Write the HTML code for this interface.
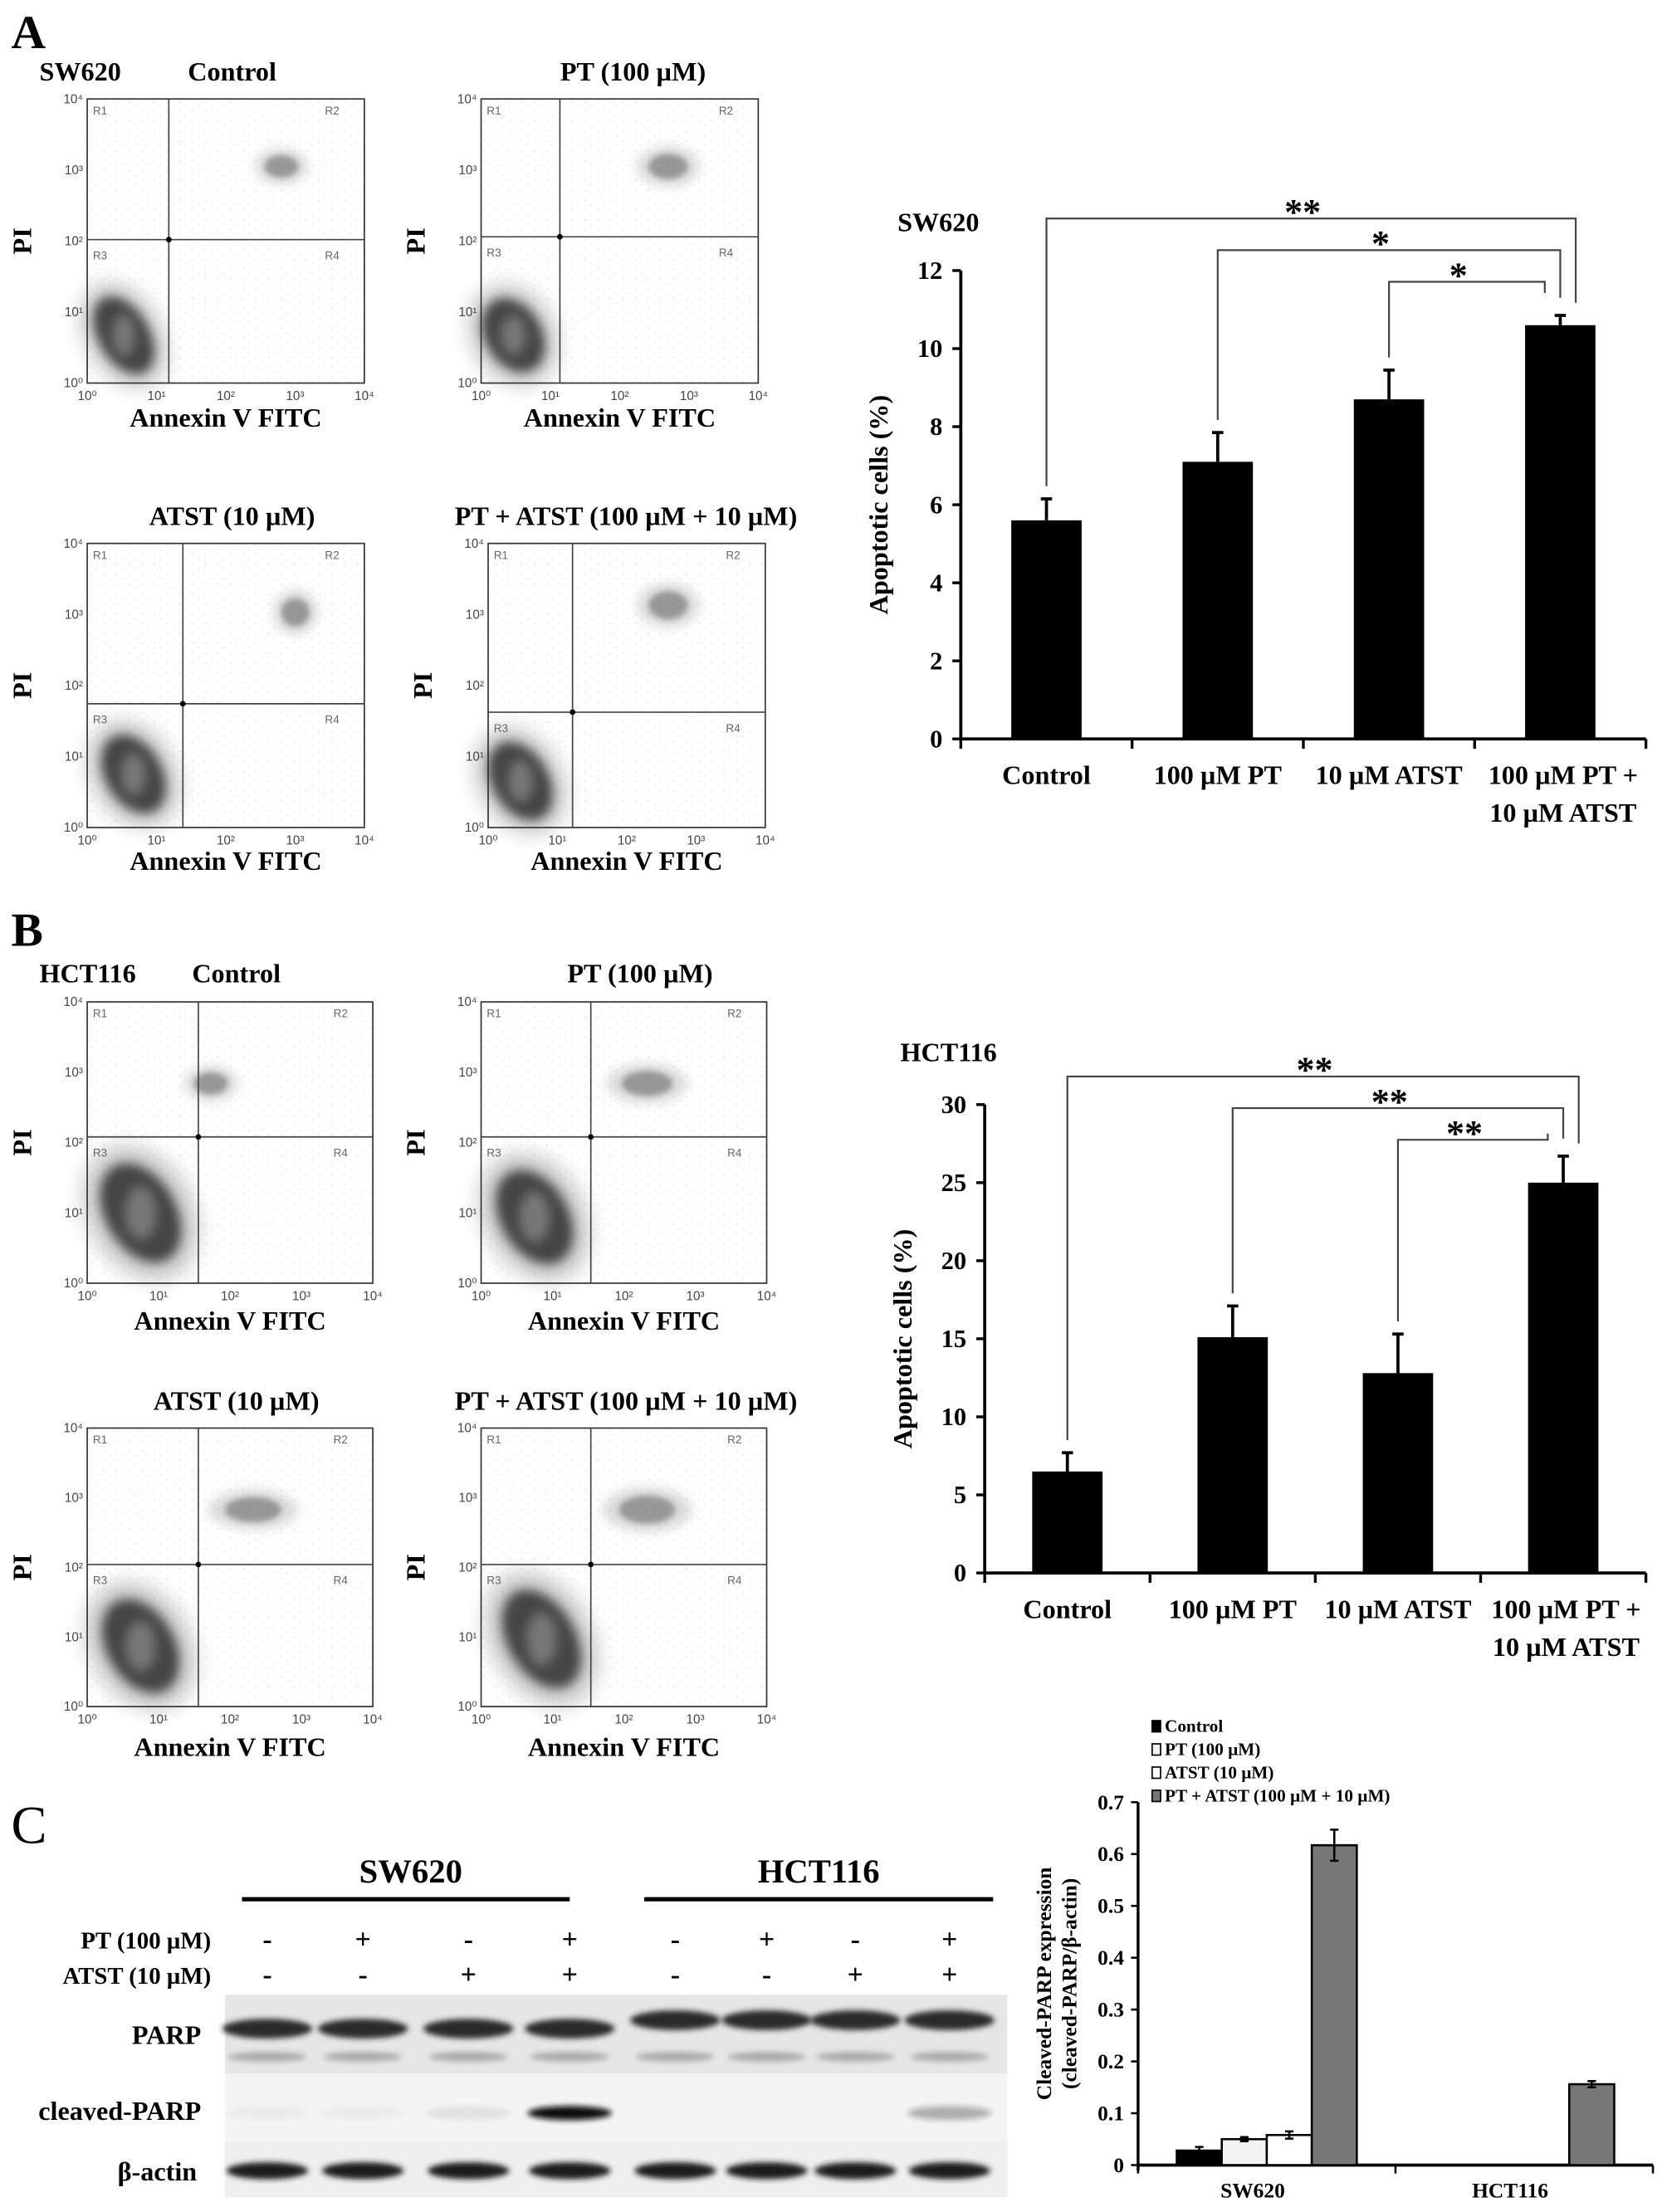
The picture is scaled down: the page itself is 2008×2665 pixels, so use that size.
<!DOCTYPE html>
<html><head><meta charset="utf-8"><style>
html,body{margin:0;padding:0;background:#fff}
svg{display:block}
text{font-family:"Liberation Serif",serif;font-weight:bold;fill:#000}
.tk{font-family:"Liberation Sans",sans-serif;font-weight:normal;fill:#444;font-size:9px}
.ql{font-family:"Liberation Sans",sans-serif;font-weight:normal;fill:#666;font-size:8px}
</style></head><body>
<svg id="fig" width="2008" height="2665" viewBox="0 0 1185 1572" xmlns="http://www.w3.org/2000/svg">
<defs>
<filter id="blur3" x="-50%" y="-50%" width="200%" height="200%"><feGaussianBlur stdDeviation="4"/></filter>
<filter id="blur6" x="-50%" y="-50%" width="200%" height="200%"><feGaussianBlur stdDeviation="7"/></filter>
<filter id="blur2" x="-50%" y="-50%" width="200%" height="200%"><feGaussianBlur stdDeviation="2"/></filter>
<pattern id="dots" width="9" height="7" patternUnits="userSpaceOnUse"><circle cx="2" cy="2" r="0.7" fill="#777"/><circle cx="6" cy="5" r="0.6" fill="#999"/></pattern>
</defs>
<text x="8" y="34" font-size="34">A</text>
<text x="8" y="672" font-size="34">B</text>
<text x="8" y="1310" font-size="38" style="font-weight:normal">C</text>
<g id="flow"></g>
<g id="chartA"></g>
<g id="chartB"></g>
<g id="blot"></g>
<g id="chartC"></g>
</svg>
<script>
// ---- Chart A data (SW620) ----
const catsA = ["Control","100 µM PT","10 µM ATST","100 µM PT +|10 µM ATST"];
const valsA = [5.6, 7.1, 8.7, 10.6];
const errsA = [0.55, 0.75, 0.75, 0.25];
const ticksA = [0,2,4,6,8,10,12];
const brFromA = [0,1,2];
const brLabelA = ["**","*","*"];
// ---- Chart B data (HCT116) ----
const catsB = ["Control","100 µM PT","10 µM ATST","100 µM PT +|10 µM ATST"];
const valsB = [6.5, 15.1, 12.8, 25.0];
const errsB = [1.2, 2.0, 2.5, 1.7];
const ticksB = [0,5,10,15,20,25,30];
const brFromB = [0,1,2];
const brLabelB = ["**","**","**"];
// ---- Chart C data ----
const groupsC = ["SW620","HCT116"];
const seriesC = ["Control","PT (100 µM)","ATST (10 µM)","PT + ATST (100 µM + 10 µM)"];
const valsControl = [0.028, 0];
const valsPT = [0.050, 0];
const valsATST = [0.058, 0];
const valsCombo = [0.617, 0.156];
const errsControl = [0.007, 0];
const errsPT = [0.004, 0];
const errsATST = [0.007, 0];
const errsCombo = [0.03, 0.006];
const ticksC = [0,0.1,0.2,0.3,0.4,0.5,0.6,0.7];

const NS="http://www.w3.org/2000/svg";
function mk(tag, attrs, parent, txt){const e=document.createElementNS(NS,tag);for(const k in attrs)e.setAttribute(k,attrs[k]);if(txt!==undefined)e.textContent=txt;parent.appendChild(e);return e;}

function barChart(g, o, cats, vals, errs, ticks, brFrom, brLabel){
  const ymax=ticks[ticks.length-1];
  const y=v=>o.y0-(v/ymax)*(o.y0-o.yTop);
  const band=(o.x1-o.x0)/cats.length;
  const cx=i=>o.x0+band*(i+0.5);
  mk('line',{x1:o.x0,y1:o.yTop,x2:o.x0,y2:o.y0,stroke:'#000','stroke-width':2.2},g);
  mk('line',{x1:o.x0,y1:o.y0,x2:o.x1,y2:o.y0,stroke:'#000','stroke-width':2.2},g);
  ticks.forEach(t=>{
    const tl=mk('line',{x1:o.x0-6,y1:y(t),x2:o.x0,y2:y(t),stroke:'#000','stroke-width':2},g);
    
    
    const tt=mk('text',{x:o.x0-13,y:y(t)+6,'font-size':18,'text-anchor':'end'},g,String(t));
    
    
  });
  for(let i=0;i<=cats.length;i++){
    mk('line',{x1:o.x0+band*i,y1:o.y0,x2:o.x0+band*i,y2:o.y0+7,stroke:'#000','stroke-width':2},g);
  }
  cats.forEach((c,i)=>{
    const b=mk('rect',{x:cx(i)-25,y:y(vals[i]),width:50,height:o.y0-y(vals[i]),fill:'#000'},g);
    
    
    const et=y(vals[i]+errs[i]);
    const el=mk('path',{d:`M${cx(i)} ${y(vals[i])}V${et}M${cx(i)-4} ${et}H${cx(i)+4}`,stroke:'#000','stroke-width':2.2,fill:'none'},g);
    
    
    const parts=c.split('|');
    parts.forEach((p,k)=>{
      const t=mk('text',{x:cx(i)+(parts.length>1?2:0),y:o.y0+32+k*27,'font-size':19,'text-anchor':'middle'},g,p);
      
      
    });
  });
  const last=cats.length-1;
  const lastTop=y(vals[last]+errs[last]);
  brFrom.forEach((f,k)=>{
    const ly=o.brY+k*22.5;
    const fx=cx(f), tx=cx(last)+11-k*11;
    const fb=y(vals[f]+errs[f])-9;
    const tb=lastTop-9-k*3.5;
    const p=mk('path',{d:`M${fx} ${fb}V${ly}H${tx}V${tb}`,stroke:'#444','stroke-width':1.3,fill:'none'},g);
    
    
    const t=mk('text',{x:(fx+tx)/2-6,y:ly+4,'font-size':26,'text-anchor':'middle'},g,brLabel[k]);
    
    
  });
  const tt=mk('text',{x:o.titleX,y:o.titleY,'font-size':19},g,o.title);
  
  
  const yt=mk('text',{x:0,y:0,'font-size':19,'text-anchor':'middle',transform:`translate(${o.x0-52},${(o.y0+o.yTop)/2}) rotate(-90)`},g,'Apoptotic cells (%)');
  
  
}
barChart(document.getElementById('chartA'),{x0:683,x1:1170,y0:525,yTop:192,brY:155,title:'SW620',titleX:638,titleY:164},catsA,valsA,errsA,ticksA,brFromA,brLabelA);
barChart(document.getElementById('chartB'),{x0:700,x1:1170,y0:1118,yTop:785,brY:765,title:'HCT116',titleX:640,titleY:754},catsB,valsB,errsB,ticksB,brFromB,brLabelB);

// ---- Chart C ----
(function(){
  const g=document.getElementById('chartC');
  const x0=809,x1=1175,y0=1539,yTop=1281,ymax=0.7;
  const y=v=>y0-(v/ymax)*(y0-yTop);
  const band=(x1-x0)/groupsC.length;
  mk('line',{x1:x0,y1:yTop,x2:x0,y2:y0+4,stroke:'#000','stroke-width':2},g);
  mk('line',{x1:x0,y1:y0,x2:x1,y2:y0,stroke:'#000','stroke-width':2.2},g);
  ticksC.forEach(t=>{
    mk('line',{x1:x0-5,y1:y(t),x2:x0,y2:y(t),stroke:'#000','stroke-width':1.5},g);
    const tt=mk('text',{x:x0-10,y:y(t)+5,'font-size':15,'text-anchor':'end'},g,t===0?'0':String(t));
    
    
  });
  for(let i=0;i<=groupsC.length;i++) mk('line',{x1:x0+band*i,y1:y0,x2:x0+band*i,y2:y0+6,stroke:'#000','stroke-width':1.5},g);
  const vals=[valsControl,valsPT,valsATST,valsCombo];
  const errs=[errsControl,errsPT,errsATST,errsCombo];
  const fills=['#000','#f3f3f3','#fff','#777'];
  const bw=32;
  groupsC.forEach((gn,gi)=>{
    const gc=x0+band*(gi+0.5);
    vals.forEach((s,si)=>{
      const bx=gc-2*bw+si*bw;
      if(s[gi]>0){
        const r=mk('rect',{x:bx,y:y(s[gi]),width:bw,height:y0-y(s[gi]),fill:fills[si],stroke:'#000','stroke-width':1.5},g);
        
        
        const c=bx+bw/2,a=y(s[gi]+errs[si][gi]),b=y(s[gi]-errs[si][gi]);
        const e=mk('path',{d:`M${c} ${a}V${b}M${c-3} ${a}H${c+3}M${c-3} ${b}H${c+3}`,stroke:'#000','stroke-width':1.5,fill:'none'},g);
        
        
      }
    });
    const t=mk('text',{x:gc-10,y:1562,'font-size':15,'text-anchor':'middle'},g,gn);
    
    
  });
  seriesC.forEach((s,i)=>{
    const ly=1231+i*16.5;
    const sq=mk('rect',{x:819,y:ly-8,width:6,height:8,fill:fills[i],stroke:'#000','stroke-width':1},g);
    
    
    const t=mk('text',{x:828,y:ly,'font-size':12.5},g,s);
    
    
  });
  const t1=mk('text',{x:0,y:0,'font-size':15,'text-anchor':'middle',transform:`translate(747,${(y0+yTop)/2}) rotate(-90)`},g,'Cleaved-PARP expression');
  
  
  const t2=mk('text',{x:0,y:0,'font-size':15,'text-anchor':'middle',transform:`translate(765,${(y0+yTop)/2}) rotate(-90)`},g,'(cleaved-PARP/β-actin)');
  
  
})();

// ---- Flow cytometry panels ----
(function(){
  const g=document.getElementById('flow');
  const plots=[
    {x:62,y:70,w:197,h:202,vx:120,hy:170,title:'Control',tx:165,ty:57,sub:'SW620',main:[88,238,18,30],r2:[200,118,12,8],lab:303},
    {x:342,y:70,w:197,h:202,vx:398,hy:168,title:'PT (100 µM)',tx:450,ty:57,main:[365,238,20,28],r2:[475,118,14,9],lab:303},
    {x:62,y:386,w:197,h:202,vx:130,hy:500,title:'ATST (10 µM)',tx:165,ty:373,main:[95,550,20,30],r2:[210,435,10,10],lab:618},
    {x:347,y:386,w:197,h:202,vx:407,hy:506,title:'PT + ATST (100 µM + 10 µM)',tx:445,ty:373,main:[370,555,20,30],r2:[475,430,14,10],lab:618},
    {x:62,y:712,w:203,h:200,vx:141,hy:808,title:'Control',tx:168,ty:698,sub:'HCT116',main:[100,862,25,38],r2:[150,770,12,8],lab:945},
    {x:342,y:712,w:203,h:200,vx:420,hy:808,title:'PT (100 µM)',tx:455,ty:698,main:[380,865,24,36],r2:[460,770,18,9],lab:945},
    {x:62,y:1015,w:203,h:198,vx:141,hy:1112,title:'ATST (10 µM)',tx:168,ty:1002,main:[100,1170,24,36],r2:[180,1073,20,9],lab:1248},
    {x:342,y:1015,w:203,h:198,vx:420,hy:1112,title:'PT + ATST (100 µM + 10 µM)',tx:445,ty:1002,main:[385,1165,24,38],r2:[460,1073,20,10],lab:1248}
  ];
  plots.forEach((p,i)=>{
    const pg=mk('g',{},g);
    
    
    mk('rect',{x:p.x,y:p.y,width:p.w,height:p.h,fill:'url(#dots)',opacity:0.15},pg);
    const m=p.main;
    mk('ellipse',{cx:m[0],cy:m[1],rx:m[2]*1.5,ry:m[3]*1.35,fill:'#777',opacity:0.4,filter:'url(#blur6)',transform:`rotate(-30 ${m[0]} ${m[1]})`},pg);
    mk('ellipse',{cx:m[0],cy:m[1],rx:m[2],ry:m[3],fill:'#444',filter:'url(#blur3)',transform:`rotate(-30 ${m[0]} ${m[1]})`},pg);
    mk('ellipse',{cx:m[0],cy:m[1],rx:m[2]*0.45,ry:m[3]*0.5,fill:'#777',filter:'url(#blur3)'},pg);
    const r=p.r2;
    mk('ellipse',{cx:r[0],cy:r[1],rx:r[2]*1.6,ry:r[3]*1.6,fill:'#999',opacity:0.35,filter:'url(#blur3)'},pg);
    mk('ellipse',{cx:r[0],cy:r[1],rx:r[2],ry:r[3],fill:'#555',opacity:0.5,filter:'url(#blur2)'},pg);
    mk('rect',{x:p.x,y:p.y,width:p.w,height:p.h,fill:'none',stroke:'#333','stroke-width':1},pg);
    mk('line',{x1:p.vx,y1:p.y,x2:p.vx,y2:p.y+p.h,stroke:'#444','stroke-width':1},pg);
    mk('line',{x1:p.x,y1:p.hy,x2:p.x+p.w,y2:p.hy,stroke:'#444','stroke-width':1},pg);
    mk('circle',{cx:p.vx,cy:p.hy,r:2,fill:'#000'},pg);
    [['R1',p.x+4,p.y+11],['R2',p.x+p.w-28,p.y+11],['R3',p.x+4,p.hy+14],['R4',p.x+p.w-28,p.hy+14]].forEach(q=>mk('text',{x:q[1],y:q[2],class:'ql'},pg,q[0]));
    for(let k=0;k<5;k++){
      const tx=mk('text',{x:p.x+p.w*k/4,y:p.y+p.h+12,class:'tk','text-anchor':'middle'},pg,'10'+['⁰','¹','²','³','⁴'][k]);
      
      
      const ty=mk('text',{x:p.x-3,y:p.y+p.h-p.h*k/4+3,class:'tk','text-anchor':'end'},pg,'10'+['⁰','¹','²','³','⁴'][k]);
      
      
    }
    const xl=mk('text',{x:p.x+p.w/2,y:p.lab,'font-size':19,'text-anchor':'middle'},pg,'Annexin V FITC');
    
    
    const yl=mk('text',{x:0,y:0,'font-size':19,'text-anchor':'middle',transform:`translate(${p.x-40},${p.y+p.h/2}) rotate(-90)`},pg,'PI');
    
    
    const tl=mk('text',{x:p.tx,y:p.ty,'font-size':19,'text-anchor':'middle'},pg,p.title);
    
    
    if(p.sub){
      const st=mk('text',{x:28,y:p.ty,'font-size':19},pg,p.sub);
      
      
    }
  });
})();

// ---- Western blot ----
(function(){
  const g=document.getElementById('blot');
  const lanes=[190,258,333,405,480,545,608,675];
  const pt=['-','+','-','+','-','+','-','+'];
  const atst=['-','-','+','+','-','-','+','+'];
  const cleaved=[0.03,0.03,0.08,1,0,0,0,0.3];
  [['SW620',292,172,405],['HCT116',582,458,706]].forEach(h=>{
    const t=mk('text',{x:h[1],y:1338,'font-size':24,'text-anchor':'middle'},g,h[0]);
    
    
    mk('line',{x1:h[2],y1:1350,x2:h[3],y2:1350,stroke:'#000','stroke-width':3},g);
  });
  mk('text',{x:150,y:1385,'font-size':17,'text-anchor':'end'},g,'PT (100 µM)');
  mk('text',{x:150,y:1410,'font-size':17,'text-anchor':'end'},g,'ATST (10 µM)');
  lanes.forEach((x,i)=>{
    mk('text',{x:x,y:1385,'font-size':20,'text-anchor':'middle'},g,pt[i]);
    mk('text',{x:x,y:1410,'font-size':20,'text-anchor':'middle'},g,atst[i]);
  });
  mk('rect',{x:160,y:1418,width:556,height:56,fill:'#e6e6e6'},g);
  mk('rect',{x:160,y:1474,width:556,height:48,fill:'#f4f4f4'},g);
  mk('rect',{x:160,y:1522,width:556,height:40,fill:'#efefef'},g);
  lanes.forEach((x,i)=>{
    const yb=i<4?1442:1436;
    const b=mk('ellipse',{cx:x,cy:yb,rx:32,ry:7,fill:'#2a2a2a',filter:'url(#blur2)'},g);
    
    
    mk('ellipse',{cx:x,cy:1462,rx:28,ry:3.5,fill:'#aaa',filter:'url(#blur2)'},g);
    if(cleaved[i]>0){
      const c=mk('ellipse',{cx:x,cy:1502,rx:30,ry:5,fill:'#111',opacity:cleaved[i],filter:'url(#blur2)'},g);
      
      
    }
    const a=mk('ellipse',{cx:x,cy:1543,rx:29,ry:6,fill:'#1c1c1c',filter:'url(#blur2)'},g);
    
    
  });
  mk('text',{x:143,y:1453,'font-size':19,'text-anchor':'end'},g,'PARP');
  mk('text',{x:143,y:1507,'font-size':19,'text-anchor':'end'},g,'cleaved-PARP');
  mk('text',{x:140,y:1550,'font-size':19,'text-anchor':'end'},g,'β-actin');
})();
</script>
</body></html>
